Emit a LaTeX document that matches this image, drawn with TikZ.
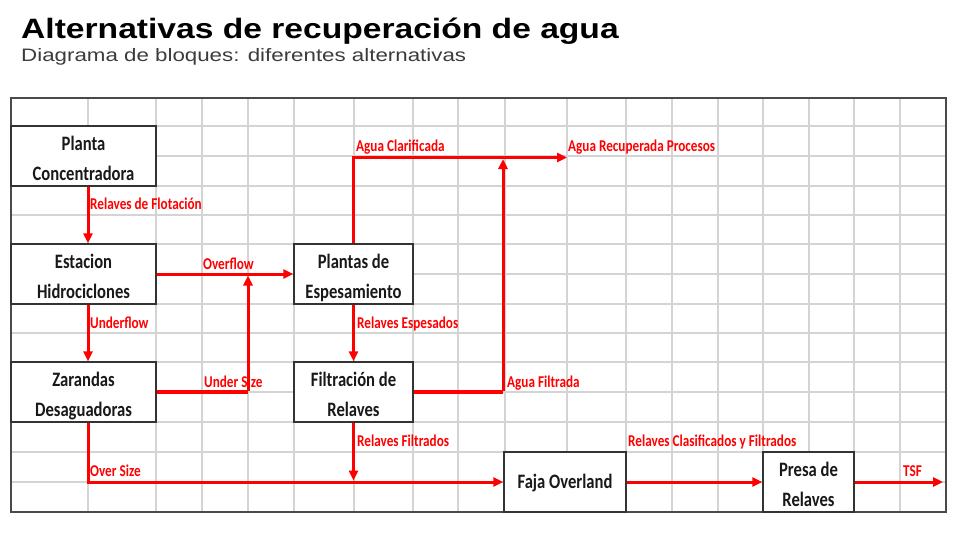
\documentclass[tikz,border=0pt]{standalone}
\usepackage{fontspec}
\usetikzlibrary{arrows.meta}
\newfontfamily\ttlfont[FakeStretch=1.2]{Liberation Sans}
\newfontfamily\subfont[FakeStretch=1.24]{Liberation Sans}
\newfontfamily\boxfont[FakeStretch=0.81]{Carlito}
\newfontfamily\lblfont[FakeStretch=0.8]{Carlito}
\newcommand\rowstrut{\rule[-6pt]{0pt}{30pt}}
\newcommand\onestrut{\rule[-7pt]{0pt}{27pt}}
\definecolor{gridc}{HTML}{D4D4D4}
\definecolor{framec}{HTML}{4A4A4A}
\definecolor{boxc}{HTML}{333333}
\definecolor{subc}{HTML}{3C3C3C}
\definecolor{redc}{HTML}{FF0000}
\tikzset{
  gridline/.style={draw=gridc, line width=1.5pt},
  blk/.style={draw=boxc, line width=1.5pt, fill=white, inner sep=0pt,
    minimum height=60pt, align=center, text=black!90,
    font=\boxfont\bfseries\fontsize{20.5}{30}\selectfont},
  lbl/.style={anchor=base west, inner sep=0pt, text=redc,
    font=\lblfont\bfseries\fontsize{16.5}{17}\selectfont},
  redl/.style={draw=redc, line width=3pt},
  arr/.style={redl, -{Triangle[length=10pt,width=9pt]}},
}
\begin{document}
\begin{tikzpicture}[x=1pt,y=-1pt]
\useasboundingbox (0,0) rectangle (980,536);
\fill[white] (0,0) rectangle (980,536);

% titles
\node[anchor=base west, inner sep=0pt, font=\ttlfont\bfseries\fontsize{28}{28}\selectfont] (title) at (21,38.5) {Alternativas de recuperación de agua};
\node[anchor=base west, inner sep=0pt, text=subc, font=\subfont\fontsize{18}{18}\selectfont] (subtitle) at (21,61) {Diagrama de bloques: diferentes alternativas};

% grid
\foreach \x in {88,156,202,248,294,354,413,458,505,567,626,672,718,763,809,854,900}
  \draw[gridline] (\x,98) -- (\x,512);
\foreach \y in {126,156,186,215,244,274,304,333,362,392,422,452,482}
  \draw[gridline] (11,\y) -- (946,\y);
\draw[draw=framec, line width=1.6pt] (11,98) rectangle (946,512);

% blocks
\node[blk, minimum width=145pt] (PC) at (83.5,156) {\rowstrut Planta\\\rowstrut Concentradora};
\node[blk, minimum width=145pt] (EH) at (83.5,274) {\rowstrut Estacion\\\rowstrut Hidrociclones};
\node[blk, minimum width=145pt] (ZD) at (83.5,392) {\rowstrut Zarandas\\\rowstrut Desaguadoras};
\node[blk, minimum width=119pt] (PE) at (353.5,274) {\rowstrut Plantas de\\\rowstrut Espesamiento};
\node[blk, minimum width=119pt] (FR) at (353.5,392) {\rowstrut Filtración de\\\rowstrut Relaves};
\node[blk, minimum width=122pt] (FO) at (565,482) {\onestrut Faja Overland};
\node[blk, minimum width=91pt] (PR) at (808.5,482) {\rowstrut Presa de\\\rowstrut Relaves};

% free ends / bends
\coordinate (arp) at (567,157.5);
\coordinate (afx) at (503,157.5);
\coordinate (afc) at (503,392);
\coordinate (usx) at (248,274);
\coordinate (usc) at (248,392);
\coordinate (tsf) at (943,482);

% connectors
\draw[arr] ([xshift=4.5pt]PC.south) -- ([xshift=4.5pt]EH.north);
\draw[arr] ([xshift=4.5pt]EH.south) -- ([xshift=4.5pt]ZD.north);
\draw[arr] ([xshift=4.5pt]ZD.south) |- (FO.west);
\draw[arr] (EH.east) -- (PE.west);
\draw[redl, line width=4.5pt] (ZD.east) -- (usc);
\draw[arr] ([yshift=1.5pt]usc) -- ([yshift=-1.5pt]usx);
\draw[arr] (PE.north) |- (arp);
\draw[arr] (PE.south) -- (FR.north);
\draw[redl, line width=4.5pt] (FR.east) -- (afc);
\draw[arr] ([yshift=1.5pt]afc) -- ([yshift=-1.5pt]afx);
\draw[arr] (FR.south) -- ([yshift=1.5pt]FR.south |- FO.west);
\draw[arr] (FO.east) -- (PR.west);
\draw[arr] (PR.east) -- (tsf);

% labels
\node[lbl] (l1) at (90,209.5) {Relaves de Flotación};
\node[lbl] (l2) at (90,328.5) {Underflow};
\node[lbl] (l3) at (203,269) {Overflow};
\node[lbl] (l4) at (204,387.5) {Under Size};
\node[lbl] (l5) at (356,151) {Agua Clarificada};
\node[lbl] (l6) at (568,151) {Agua Recuperada Procesos};
\node[lbl] (l7) at (357,328.5) {Relaves Espesados};
\node[lbl] (l8) at (507,387.5) {Agua Filtrada};
\node[lbl] (l9) at (357,446.5) {Relaves Filtrados};
\node[lbl] (l10) at (90,476.5) {Over Size};
\node[lbl] (l11) at (628,446.5) {Relaves Clasificados y Filtrados};
\node[lbl] (l12) at (903,476.5) {TSF};
\end{tikzpicture}
\end{document}
